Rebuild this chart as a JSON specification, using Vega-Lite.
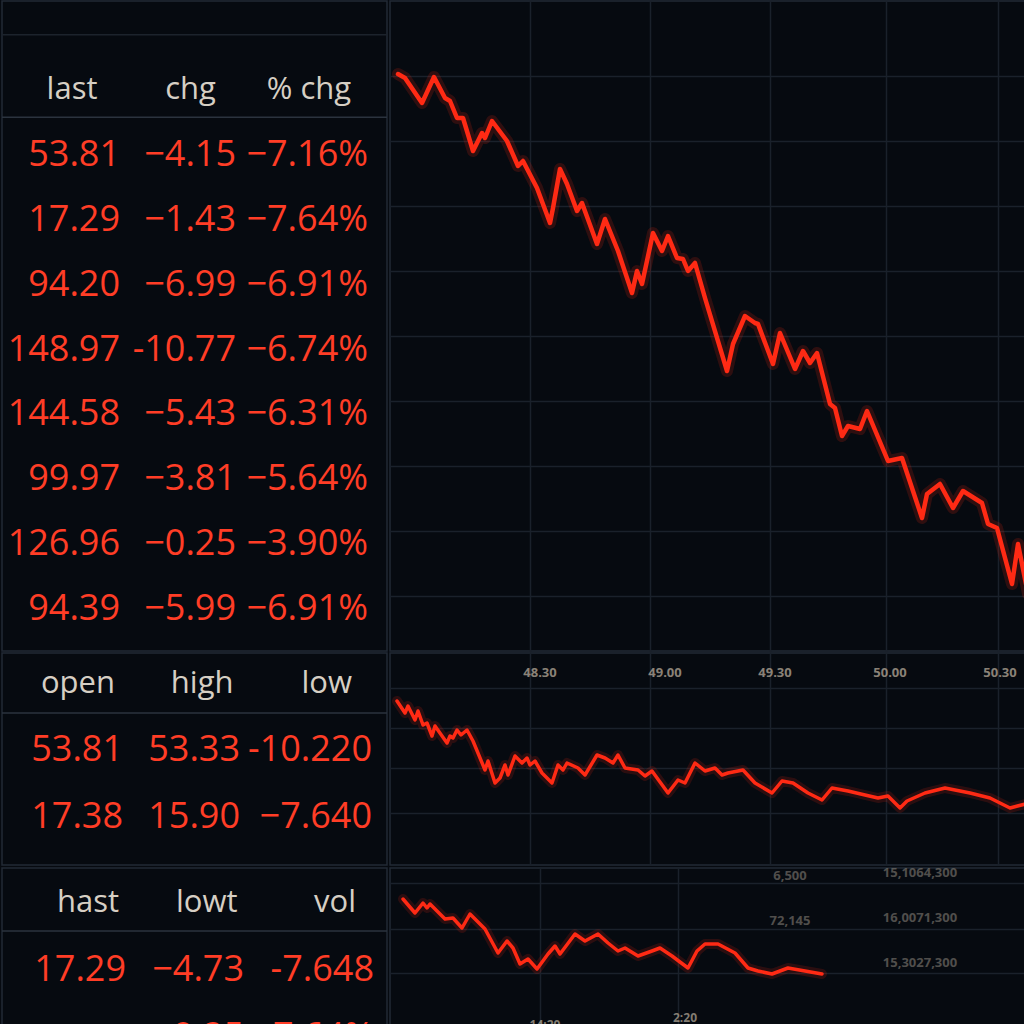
{
"$schema": "https://vega.github.io/schema/vega-lite/v6.json",
"background": "#060a10",
"padding": 0,
"spacing": 0,
"config": {
  "view": {"stroke": "#222a35", "strokeWidth": 1.5},
  "axis": {"grid": true, "labels": false, "ticks": false, "domain": false, "title": null, "gridColor": "#1a212b", "gridWidth": 1.5}
},
"datasets": {
  "t1": [
    {"r": 1, "a": "53.81", "b": "−4.15", "c": "−7.16%"},
    {"r": 2, "a": "17.29", "b": "−1.43", "c": "−7.64%"},
    {"r": 3, "a": "94.20", "b": "−6.99", "c": "−6.91%"},
    {"r": 4, "a": "148.97", "b": "-10.77", "c": "−6.74%"},
    {"r": 5, "a": "144.58", "b": "−5.43", "c": "−6.31%"},
    {"r": 6, "a": "99.97", "b": "−3.81", "c": "−5.64%"},
    {"r": 7, "a": "126.96", "b": "−0.25", "c": "−3.90%"},
    {"r": 8, "a": "94.39", "b": "−5.99", "c": "−6.91%"}
  ],
  "t2": [
    {"r": 1, "a": "53.81", "b": "53.33", "c": "-10.220"},
    {"r": 2, "a": "17.38", "b": "15.90", "c": "−7.640"}
  ],
  "t3": [
    {"r": 1, "a": "17.29", "b": "−4.73", "c": "-7.648"},
    {"r": 2, "a": "", "b": "−0.25", "c": "−7.64%"}
  ],
  "line1": [
    {"t":2,"v":97.7},{"t":3.75,"v":97.3},{"t":8,"v":94.8},{"t":11,"v":97.4},{"t":13.75,"v":95.3},{"t":15,"v":95.0},{"t":16.75,"v":93.3},{"t":18.25,"v":93.3},{"t":20.75,"v":90.0},{"t":23,"v":91.8},{"t":23.75,"v":91.3},{"t":25.5,"v":93.0},{"t":29.25,"v":91.0},{"t":32,"v":88.5},{"t":33.25,"v":89.0},{"t":36.75,"v":86.3},{"t":40,"v":82.8},{"t":40.75,"v":84.3},{"t":42.5,"v":88.2},{"t":44.25,"v":86.7},{"t":46.75,"v":84.0},{"t":48,"v":84.8},{"t":51.75,"v":80.7},{"t":53.75,"v":83.2},{"t":57,"v":80.0},{"t":60.5,"v":75.8},{"t":61.75,"v":78.0},{"t":63,"v":76.7},{"t":65.75,"v":81.8},{"t":68,"v":80.0},{"t":69.5,"v":81.5},{"t":71.75,"v":79.3},{"t":73.25,"v":79.2},{"t":74.5,"v":78.0},{"t":76.25,"v":78.8},{"t":78.75,"v":75.3},{"t":84.25,"v":68.0},{"t":85.75,"v":70.7},{"t":88.75,"v":73.5},{"t":91.25,"v":72.8},{"t":92,"v":72.7},{"t":95.75,"v":68.7},{"t":97.5,"v":71.8},{"t":101.25,"v":68.2},{"t":103.25,"v":70.0},{"t":105,"v":68.8},{"t":106.75,"v":69.8},{"t":110,"v":64.7},{"t":111.25,"v":64.3},{"t":113,"v":61.5},{"t":114.5,"v":62.5},{"t":117.5,"v":62.2},{"t":119.25,"v":64.0},{"t":124.5,"v":59.0},{"t":128,"v":59.3},{"t":133,"v":53.3},{"t":134.25,"v":55.7},{"t":137.5,"v":56.7},{"t":140.75,"v":54.3},{"t":143.25,"v":56.0},{"t":148,"v":54.8},{"t":149.5,"v":52.7},{"t":151.75,"v":52.3},{"t":155.5,"v":46.7},{"t":157,"v":50.7},{"t":159.5,"v":45.7}
  ],
  "line2": [
    {"t":1.75,"v":25.2},{"t":3.75,"v":24.0},{"t":4.5,"v":24.7},{"t":6.25,"v":23.3},{"t":7,"v":24.2},{"t":8.25,"v":22.8},{"t":9.25,"v":23.0},{"t":10.5,"v":21.7},{"t":11.25,"v":22.7},{"t":14.25,"v":21.0},{"t":15,"v":21.7},{"t":15.75,"v":21.5},{"t":16.75,"v":22.3},{"t":17.75,"v":21.8},{"t":19.25,"v":22.3},{"t":20.75,"v":21.2},{"t":23.75,"v":18.3},{"t":24.5,"v":19.2},{"t":26.25,"v":17.0},{"t":27.5,"v":17.5},{"t":28.75,"v":18.8},{"t":29.5,"v":17.8},{"t":31.25,"v":19.7},{"t":33,"v":19.0},{"t":34.25,"v":19.5},{"t":35,"v":18.8},{"t":36.25,"v":19.2},{"t":38,"v":18.0},{"t":40.5,"v":17.0},{"t":42,"v":18.8},{"t":43.25,"v":18.3},{"t":44.25,"v":19.0},{"t":47,"v":18.5},{"t":48.75,"v":17.8},{"t":51.75,"v":19.8},{"t":53.75,"v":19.5},{"t":55.75,"v":19.0},{"t":57,"v":19.8},{"t":58.75,"v":18.5},{"t":62,"v":18.3},{"t":63.75,"v":17.7},{"t":65.5,"v":18.2},{"t":69.5,"v":16.0},{"t":72,"v":17.3},{"t":73.75,"v":17.0},{"t":76.25,"v":19.0},{"t":78.75,"v":18.2},{"t":81.25,"v":18.5},{"t":83,"v":17.8},{"t":84.5,"v":18.0},{"t":88.25,"v":18.3},{"t":91.25,"v":17.0},{"t":95.5,"v":16.0},{"t":98,"v":17.2},{"t":100.75,"v":17.0},{"t":104.5,"v":16.0},{"t":108,"v":15.3},{"t":110.5,"v":16.5},{"t":114.5,"v":16.2},{"t":118.75,"v":15.8},{"t":122,"v":15.5},{"t":124.5,"v":15.7},{"t":127.5,"v":14.5},{"t":129.25,"v":15.2},{"t":133.75,"v":16.0},{"t":138.75,"v":16.5},{"t":145,"v":16.0},{"t":150,"v":15.5},{"t":155,"v":14.5},{"t":159.75,"v":15.0}
  ],
  "line3": [
    {"t":3.25,"v":13.1},{"t":6.25,"v":11.7},{"t":8.25,"v":12.7},{"t":9.25,"v":12.2},{"t":10,"v":12.6},{"t":13.75,"v":11.1},{"t":15.75,"v":11.2},{"t":18,"v":10.2},{"t":20,"v":11.6},{"t":23.75,"v":10.1},{"t":27,"v":7.7},{"t":29.25,"v":8.9},{"t":30.75,"v":8.2},{"t":32.5,"v":6.6},{"t":34.5,"v":7.1},{"t":36.75,"v":6.1},{"t":39.5,"v":7.6},{"t":41.25,"v":8.4},{"t":42.5,"v":7.6},{"t":46.25,"v":9.6},{"t":48.75,"v":8.9},{"t":52,"v":9.6},{"t":54.5,"v":8.7},{"t":57,"v":7.9},{"t":58.75,"v":8.2},{"t":62,"v":7.4},{"t":65.5,"v":7.9},{"t":67.5,"v":8.2},{"t":70.5,"v":7.4},{"t":74.5,"v":6.2},{"t":76.75,"v":7.9},{"t":78.75,"v":8.6},{"t":82,"v":8.6},{"t":86.25,"v":7.7},{"t":89.5,"v":6.2},{"t":92,"v":5.9},{"t":95.5,"v":5.6},{"t":99.5,"v":6.2},{"t":103.75,"v":5.9},{"t":108,"v":5.6}
  ]
},
"vconcat": [
 {"spacing": 0, "hconcat": [
  {
   "width": 385, "height": 650,
   "layer": [
    {"data": {"values": [{}]}, "mark": {"type": "rule", "color": "#2b333e", "strokeWidth": 1.5}, "encoding": {"y": {"datum": 0.42, "type": "quantitative", "scale": {"domain": [-1.371, 8.644], "reverse": true, "nice": false, "zero": false}, "axis": null}}},
    {"data": {"values": [{}]}, "mark": {"type": "rule", "color": "#1c232c", "strokeWidth": 1.5}, "encoding": {"y": {"datum": -0.85, "type": "quantitative", "scale": {"domain": [-1.371, 8.644], "reverse": true, "nice": false, "zero": false}, "axis": null}}},
    {"data": {"values": [{"c": 1, "h": "last"}, {"c": 2, "h": "chg"}, {"c": 3, "h": "% chg"}]},
     "mark": {"type": "text", "font": "Open Sans", "fontSize": 31, "color": "#d6cfc4", "align": "center", "baseline": "middle", "dx": 2},
     "encoding": {"x": {"field": "c", "type": "quantitative", "scale": {"domain": [0.426, 3.675], "nice": false, "zero": false}, "axis": null}, "y": {"datum": 0, "type": "quantitative", "scale": {"domain": [-1.371, 8.644], "reverse": true, "nice": false, "zero": false}, "axis": null}, "text": {"field": "h"}}},
    {"data": {"name": "t1"}, "mark": {"type": "text", "font": "Open Sans", "fontSize": 36, "color": "#ff3d26", "align": "right", "baseline": "middle", "dx": 50},
     "encoding": {"x": {"datum": 1, "type": "quantitative", "scale": {"domain": [0.426, 3.675], "nice": false, "zero": false}, "axis": null}, "y": {"field": "r", "type": "quantitative", "scale": {"domain": [-1.371, 8.644], "reverse": true, "nice": false, "zero": false}, "axis": null}, "text": {"field": "a"}}},
    {"data": {"name": "t1"}, "mark": {"type": "text", "font": "Open Sans", "fontSize": 36, "color": "#ff3d26", "align": "right", "baseline": "middle", "dx": 47.5},
     "encoding": {"x": {"datum": 2, "type": "quantitative", "scale": {"domain": [0.426, 3.675], "nice": false, "zero": false}, "axis": null}, "y": {"field": "r", "type": "quantitative", "scale": {"domain": [-1.371, 8.644], "reverse": true, "nice": false, "zero": false}, "axis": null}, "text": {"field": "b"}}},
    {"data": {"name": "t1"}, "mark": {"type": "text", "font": "Open Sans", "fontSize": 36, "color": "#ff3d26", "align": "right", "baseline": "middle", "dx": 61},
     "encoding": {"x": {"datum": 3, "type": "quantitative", "scale": {"domain": [0.426, 3.675], "nice": false, "zero": false}, "axis": null}, "y": {"field": "r", "type": "quantitative", "scale": {"domain": [-1.371, 8.644], "reverse": true, "nice": false, "zero": false}, "axis": null}, "text": {"field": "c"}}}
   ]
  },
  {
   "width": 639, "height": 650,
   "data": {"name": "line1"},
   "encoding": {
     "x": {"field": "t", "type": "quantitative", "scale": {"domain": [0, 159.75], "nice": false, "zero": false}, "axis": {"values": [35, 65, 95, 124, 152]}},
     "y": {"field": "v", "type": "quantitative", "scale": {"domain": [40, 105], "nice": false, "zero": false}, "axis": {"values": [45.5, 52, 58.5, 65, 71.5, 78, 84.5, 91, 97.5]}}
   },
   "layer": [
    {"mark": {"type": "line", "color": "#ff2a14", "strokeWidth": 12, "opacity": 0.16, "strokeJoin": "round", "strokeCap": "round", "clip": true}},
    {"mark": {"type": "line", "color": "#ff2a14", "strokeWidth": 4.5, "strokeJoin": "round", "strokeCap": "round", "clip": true}}
   ]
  }
 ]},
 {"spacing": 0, "hconcat": [
  {
   "width": 385, "height": 212,
   "layer": [
    {"data": {"values": [{}]}, "mark": {"type": "rule", "color": "#2b333e", "strokeWidth": 1.5}, "encoding": {"y": {"datum": 0.436, "type": "quantitative", "scale": {"domain": [-0.466, 2.722], "reverse": true, "nice": false, "zero": false}, "axis": null}}},
    {"data": {"values": [{"c": 1, "h": "open"}, {"c": 2, "h": "high"}, {"c": 3, "h": "low"}]},
     "mark": {"type": "text", "font": "Open Sans", "fontSize": 31, "color": "#d6cfc4", "align": "right", "baseline": "middle", "dx": 45},
     "encoding": {"x": {"field": "c", "type": "quantitative", "scale": {"domain": [0.426, 3.675], "nice": false, "zero": false}, "axis": null}, "y": {"datum": 0, "type": "quantitative", "scale": {"domain": [-0.466, 2.722], "reverse": true, "nice": false, "zero": false}, "axis": null}, "text": {"field": "h"}}},
    {"data": {"name": "t2"}, "mark": {"type": "text", "font": "Open Sans", "fontSize": 36, "color": "#ff3d26", "align": "right", "baseline": "middle", "dx": 53},
     "encoding": {"x": {"datum": 1, "type": "quantitative", "scale": {"domain": [0.426, 3.675], "nice": false, "zero": false}, "axis": null}, "y": {"field": "r", "type": "quantitative", "scale": {"domain": [-0.466, 2.722], "reverse": true, "nice": false, "zero": false}, "axis": null}, "text": {"field": "a"}}},
    {"data": {"name": "t2"}, "mark": {"type": "text", "font": "Open Sans", "fontSize": 36, "color": "#ff3d26", "align": "right", "baseline": "middle", "dx": 51.5},
     "encoding": {"x": {"datum": 2, "type": "quantitative", "scale": {"domain": [0.426, 3.675], "nice": false, "zero": false}, "axis": null}, "y": {"field": "r", "type": "quantitative", "scale": {"domain": [-0.466, 2.722], "reverse": true, "nice": false, "zero": false}, "axis": null}, "text": {"field": "b"}}},
    {"data": {"name": "t2"}, "mark": {"type": "text", "font": "Open Sans", "fontSize": 36, "color": "#ff3d26", "align": "right", "baseline": "middle", "dx": 65},
     "encoding": {"x": {"datum": 3, "type": "quantitative", "scale": {"domain": [0.426, 3.675], "nice": false, "zero": false}, "axis": null}, "y": {"field": "r", "type": "quantitative", "scale": {"domain": [-0.466, 2.722], "reverse": true, "nice": false, "zero": false}, "axis": null}, "text": {"field": "c"}}}
   ]
  },
  {
   "width": 639, "height": 212,
   "layer": [
    {"data": {"name": "line2"}, "mark": {"type": "line", "color": "#ff2a14", "strokeWidth": 10, "opacity": 0.15, "strokeJoin": "round", "strokeCap": "round", "clip": true},
     "encoding": {
       "x": {"field": "t", "type": "quantitative", "scale": {"domain": [0, 159.75], "nice": false, "zero": false}, "axis": {"values": [35, 65, 95, 124, 152]}},
       "y": {"field": "v", "type": "quantitative", "scale": {"domain": [8.8, 30], "nice": false, "zero": false}, "axis": {"values": [14, 18.5, 22.5, 26.5]}}
     }},
    {"data": {"name": "line2"}, "mark": {"type": "line", "color": "#ff2a14", "strokeWidth": 3.5, "strokeJoin": "round", "strokeCap": "round", "clip": true},
     "encoding": {
       "x": {"field": "t", "type": "quantitative"},
       "y": {"field": "v", "type": "quantitative"}
     }},
    {"data": {"values": [{"t": 37.5, "label": "48.30"}, {"t": 68.75, "label": "49.00"}, {"t": 96.25, "label": "49.30"}, {"t": 125, "label": "50.00"}, {"t": 152.5, "label": "50.30"}]},
     "mark": {"type": "text", "font": "Open Sans", "fontSize": 13, "fontWeight": "bold", "color": "#c2b6a3", "opacity": 0.7, "baseline": "middle"},
     "encoding": {"x": {"field": "t", "type": "quantitative"}, "y": {"datum": 28, "type": "quantitative"}, "text": {"field": "label"}}}
   ]
  }
 ]},
 {"spacing": 0, "hconcat": [
  {
   "width": 385, "height": 162,
   "layer": [
    {"data": {"values": [{}]}, "mark": {"type": "rule", "color": "#2b333e", "strokeWidth": 1.5}, "encoding": {"y": {"datum": 0.418, "type": "quantitative", "scale": {"domain": [-0.522, 1.896], "reverse": true, "nice": false, "zero": false}, "axis": null}}},
    {"data": {"values": [{"c": 1, "h": "hast"}, {"c": 2, "h": "lowt"}, {"c": 3, "h": "vol"}]},
     "mark": {"type": "text", "font": "Open Sans", "fontSize": 31, "color": "#d6cfc4", "align": "right", "baseline": "middle", "dx": 49},
     "encoding": {"x": {"field": "c", "type": "quantitative", "scale": {"domain": [0.426, 3.675], "nice": false, "zero": false}, "axis": null}, "y": {"datum": 0, "type": "quantitative", "scale": {"domain": [-0.522, 1.896], "reverse": true, "nice": false, "zero": false}, "axis": null}, "text": {"field": "h"}}},
    {"data": {"name": "t3"}, "mark": {"type": "text", "font": "Open Sans", "fontSize": 36, "color": "#ff3d26", "align": "right", "baseline": "middle", "dx": 56},
     "encoding": {"x": {"datum": 1, "type": "quantitative", "scale": {"domain": [0.426, 3.675], "nice": false, "zero": false}, "axis": null}, "y": {"field": "r", "type": "quantitative", "scale": {"domain": [-0.522, 1.896], "reverse": true, "nice": false, "zero": false}, "axis": null}, "text": {"field": "a"}}},
    {"data": {"name": "t3"}, "mark": {"type": "text", "font": "Open Sans", "fontSize": 36, "color": "#ff3d26", "align": "right", "baseline": "middle", "dx": 55.5},
     "encoding": {"x": {"datum": 2, "type": "quantitative", "scale": {"domain": [0.426, 3.675], "nice": false, "zero": false}, "axis": null}, "y": {"field": "r", "type": "quantitative", "scale": {"domain": [-0.522, 1.896], "reverse": true, "nice": false, "zero": false}, "axis": null}, "text": {"field": "b"}}},
    {"data": {"name": "t3"}, "mark": {"type": "text", "font": "Open Sans", "fontSize": 36, "color": "#ff3d26", "align": "right", "baseline": "middle", "dx": 67},
     "encoding": {"x": {"datum": 3, "type": "quantitative", "scale": {"domain": [0.426, 3.675], "nice": false, "zero": false}, "axis": null}, "y": {"field": "r", "type": "quantitative", "scale": {"domain": [-0.522, 1.896], "reverse": true, "nice": false, "zero": false}, "axis": null}, "text": {"field": "c"}}}
   ]
  },
  {
   "width": 639, "height": 162,
   "layer": [
    {"data": {"name": "line3"}, "mark": {"type": "line", "color": "#ff2a14", "strokeWidth": 10, "opacity": 0.15, "strokeJoin": "round", "strokeCap": "round", "clip": true},
     "encoding": {
       "x": {"field": "t", "type": "quantitative", "scale": {"domain": [0, 159.75], "nice": false, "zero": false}, "axis": {"values": [37.5, 72]}},
       "y": {"field": "v", "type": "quantitative", "scale": {"domain": [0, 16.2], "nice": false, "zero": false}, "axis": {"values": [5.7, 10.1, 14.7]}}
     }},
    {"data": {"name": "line3"}, "mark": {"type": "line", "color": "#ff2a14", "strokeWidth": 3.5, "strokeJoin": "round", "strokeCap": "round", "clip": true},
     "encoding": {"x": {"field": "t", "type": "quantitative"}, "y": {"field": "v", "type": "quantitative"}}},
    {"data": {"values": [{"t": 100, "v": 15.4, "label": "6,500"}, {"t": 100, "v": 10.9, "label": "72,145"}, {"t": 132.5, "v": 15.7, "label": "15,1064,300"}, {"t": 132.5, "v": 11.2, "label": "16,0071,300"}, {"t": 132.5, "v": 6.7, "label": "15,3027,300"}]},
     "mark": {"type": "text", "font": "Open Sans", "fontSize": 13, "fontWeight": "bold", "color": "#8e877e", "opacity": 0.55, "baseline": "middle"},
     "encoding": {"x": {"field": "t", "type": "quantitative"}, "y": {"field": "v", "type": "quantitative"}, "text": {"field": "label"}}},
    {"data": {"values": [{"t": 38.75, "v": 0.5, "label": "14:20"}, {"t": 73.75, "v": 1.2, "label": "2:20"}]},
     "mark": {"type": "text", "font": "Open Sans", "fontSize": 12, "fontWeight": "bold", "color": "#b8ad9c", "opacity": 0.7, "baseline": "middle"},
     "encoding": {"x": {"field": "t", "type": "quantitative"}, "y": {"field": "v", "type": "quantitative"}, "text": {"field": "label"}}}
   ]
  }
 ]}
]
}
